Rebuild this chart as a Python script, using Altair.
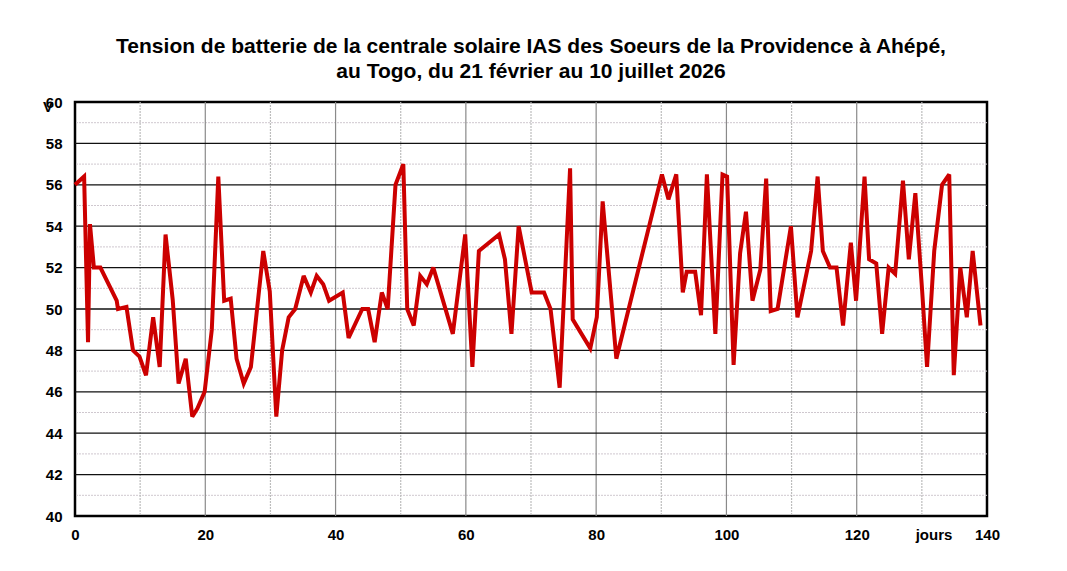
import altair as alt
import pandas as pd

days = [0, 1.4, 2, 2.3, 2.9, 3.9, 6.4, 6.6, 7.9, 8.9, 9.9, 10.9, 12, 13, 13.9, 15, 15.9, 17, 18, 18.8,
        19.9, 21, 22, 22.9, 23.9, 24.8, 25.9, 27, 28.9, 29.9, 30.9, 31.8, 32.8, 33.8, 35.1, 36.2, 37.1,
        38.1, 39, 41.1, 42, 44.1, 45, 46, 47.1, 48, 49.2, 50.4, 51, 52, 53, 54, 55, 58, 59.9, 61, 62,
        65.1, 66, 67, 68.1, 70.1, 72, 73, 74.4, 76, 76.4, 79.1, 80.1, 81, 83.1, 90.1, 91.1, 92.3, 93.3,
        93.9, 95.2, 96.1, 97, 98.3, 99.4, 100.1, 101.1, 102.1, 103, 104, 105.2, 106.1, 106.8, 107.85,
        109.9, 110.9, 113, 114, 114.8, 115.9, 116.9, 117.9, 119.1, 119.9, 121.2, 121.9, 123, 123.9,
        124.9, 125.9, 127.1, 128, 129, 130.05, 130.8, 131.9, 133.1, 134.2, 134.9, 135.9, 136.9, 137.8, 139]

volts = [56.0, 56.4, 48.4, 54.1, 52.0, 52.0, 50.4, 50.0, 50.1, 48.0, 47.7, 46.8, 49.6, 47.2, 53.6, 50.45,
         46.4, 47.6, 44.8, 45.2, 46.0, 49.0, 56.4, 50.4, 50.5, 47.6, 46.4, 47.2, 52.8, 50.85, 44.8, 48.0,
         49.6, 50.0, 51.6, 50.8, 51.6, 51.2, 50.4, 50.8, 48.6, 50.0, 50.0, 48.4, 50.8, 50.0, 56.0, 57.0,
         50.0, 49.2, 51.6, 51.2, 52.0, 48.8, 53.6, 47.2, 52.8, 53.6, 52.4, 48.8, 54.0, 50.8, 50.8, 50.0,
         46.2, 56.8, 49.5, 48.1, 49.6, 55.2, 47.6, 56.5, 55.3, 56.5, 50.8, 51.8, 51.8, 49.7, 56.5, 48.8,
         56.5, 56.4, 47.3, 52.7, 54.7, 50.4, 51.9, 56.3, 49.9, 50.0, 54.0, 49.6, 52.8, 56.4, 52.8, 52.0,
         52.0, 49.2, 53.2, 50.4, 56.4, 52.4, 52.2, 48.8, 52.0, 51.7, 56.2, 52.4, 55.6, 50.85, 47.2, 52.8,
         56.0, 56.5, 46.8, 52.0, 49.6, 52.8, 49.2]

x_ticks = [0, 20, 40, 60, 80, 100, 120, 140]
y_ticks = [40, 42, 44, 46, 48, 50, 52, 54, 56, 58, 60]
x_grid_major = [20, 40, 60, 80, 100, 120]
x_grid_minor = [10, 30, 50, 70, 90, 110, 130]
y_grid_major = [42, 44, 46, 48, 50, 52, 54, 56, 58]
y_grid_minor = [41, 43, 45, 47, 49, 51, 53, 55, 57, 59]

title_lines = ["Tension de batterie de la centrale solaire IAS des Soeurs de la Providence à Ahépé,",
               "au Togo, du 21 février au 10 juillet 2026"]
x_unit = "jours"
y_unit = "V"

FONT = "Liberation Sans"
W, H = 912, 414

xs = alt.Scale(domain=[0, 140], nice=False, zero=False)
ys = alt.Scale(domain=[40, 60], nice=False, zero=False)

x_axis = alt.Axis(values=x_ticks, grid=False, domain=False, ticks=False, tickSize=0,
                  labelPadding=11, labelFont=FONT, labelFontSize=15, title=None,
                  labelFontWeight="bold", labelColor="black", labelFlush=False,
                  labelOverlap=False)
y_axis = alt.Axis(values=y_ticks, grid=False, domain=False, ticks=False, tickSize=0,
                  labelPadding=13, labelFont=FONT, labelFontSize=15, title=None,
                  labelFontWeight="bold", labelColor="black", labelFlush=False,
                  labelOverlap=False)

df = pd.DataFrame({"day": days, "v": volts})

ygmin = alt.Chart(pd.DataFrame({"g": y_grid_minor})).mark_rule(
    color="#cfc8cf", strokeWidth=1, strokeDash=[2, 1]
).encode(y=alt.Y("g:Q", scale=ys, axis=y_axis))

xgmin = alt.Chart(pd.DataFrame({"g": x_grid_minor})).mark_rule(
    color="#bdbdbd", strokeWidth=1.2, strokeDash=[2, 1]
).encode(x=alt.X("g:Q", scale=xs, axis=x_axis))

xgmaj = alt.Chart(pd.DataFrame({"g": x_grid_major})).mark_rule(
    color="#8a8a8a", strokeWidth=1.2
).encode(x=alt.X("g:Q", scale=xs, axis=x_axis))

ygmaj = alt.Chart(pd.DataFrame({"g": y_grid_major})).mark_rule(
    color="#111111", strokeWidth=1.3
).encode(y=alt.Y("g:Q", scale=ys, axis=y_axis))

line = alt.Chart(df).mark_line(
    color="#cc0000", strokeWidth=4, strokeJoin="miter", strokeMiterLimit=3
).encode(
    x=alt.X("day:Q", scale=xs, axis=x_axis),
    y=alt.Y("v:Q", scale=ys, axis=y_axis),
)

jours = alt.Chart(pd.DataFrame({"t": [x_unit]})).mark_text(
    font=FONT, fontSize=15, fontWeight="bold", color="black", align="center", baseline="middle"
).encode(text="t:N", x=alt.value(859), y=alt.value(433))

vlab = alt.Chart(pd.DataFrame({"t": [y_unit]})).mark_text(
    font=FONT, fontSize=15, fontWeight="bold", color="black", align="center", baseline="middle"
).encode(text="t:N", x=alt.value(-27), y=alt.value(5))

chart = alt.layer(ygmin, xgmin, xgmaj, ygmaj, line, jours, vlab).properties(
    width=W, height=H,
    padding={"left": 67, "top": 94, "right": 70, "bottom": 40},
    autosize=alt.AutoSizeParams(type="none"),
    title=alt.TitleParams(title_lines, font=FONT, fontSize=21, fontWeight="bold", color="black",
                          anchor="middle", offset=13, lineHeight=25),
    background="white",
).configure_view(stroke="black", strokeWidth=2.5)

chart.save("out.html", embed_options={"renderer": "svg", "actions": False})
